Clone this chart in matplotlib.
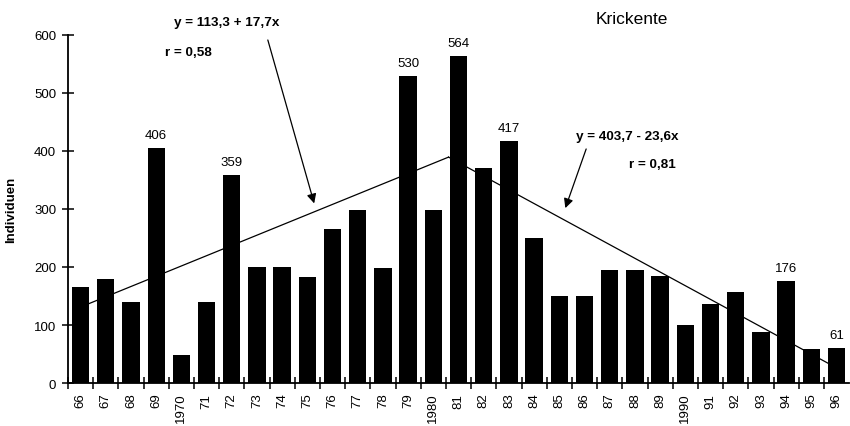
import matplotlib
matplotlib.use("Agg")
import matplotlib.pyplot as plt
import numpy as np

plt.rcParams['font.family'] = ['Liberation Sans', 'DejaVu Sans']

# Krickente counts per winter, 1966-1996
years = ['66', '67', '68', '69', '1970', '71', '72', '73', '74', '75', '76', '77', '78', '79', '1980',
         '81', '82', '83', '84', '85', '86', '87', '88', '89', '1990', '91', '92', '93', '94', '95', '96']
counts = [165, 180, 140, 406, 48, 140, 359, 200, 200, 183, 265, 298, 198, 530, 298,
          564, 370, 417, 250, 150, 150, 195, 195, 185, 100, 137, 157, 88, 176, 58, 61]
labelled = ['69', '72', '79', '81', '83', '94', '96']

# regression lines: rise 1966-1981, fall 1981-1996
rise_a, rise_b = 113.3, 17.7
fall_a, fall_b = 403.7, -23.6

fig = plt.figure(figsize=(8.5, 4.27), dpi=100)
ax = fig.add_axes([0.08, 0.1007, 0.919, 0.815])

pos = np.arange(len(years)) + 0.5
ax.bar(pos, counts, width=0.69, color='black', zorder=2)

for name, p, c in zip(years, pos, counts):
    if name in labelled:
        ax.annotate(str(c), (p, c), xytext=(0, 5), textcoords='offset points',
                    ha='center', va='bottom', fontsize=9.5)

# x of the regression = running year number (66 -> 1, 81 -> 1 for the second line)
meet = (fall_a + 14 * (-fall_b) - rise_a - rise_b) / (rise_b - fall_b)
x1 = np.array([0.3, meet])
ax.plot(x1 + 0.5, rise_a + rise_b * (x1 + 1), color='black', lw=0.9, zorder=3)
x2 = np.array([meet, 29.8])
ax.plot(x2 + 0.5, fall_a + fall_b * (x2 - 14), color='black', lw=0.9, zorder=3)

ax.text(6.3, 622, 'y = 113,3 + 17,7x', ha='center', va='center', fontsize=9.7,
        fontweight='bold', clip_on=False)
ax.text(3.85, 571, 'r = 0,58', ha='left', va='center', fontsize=9.7,
        fontweight='bold', clip_on=False)
ax.annotate('', xy=(9.8, 305), xytext=(7.9, 596),
            arrowprops=dict(arrowstyle='-|>', color='black', lw=0.9, mutation_scale=14),
            annotation_clip=False)

ax.text(22.2, 426, 'y = 403,7 - 23,6x', ha='center', va='center', fontsize=9.7,
        fontweight='bold')
ax.text(22.25, 378, 'r = 0,81', ha='left', va='center', fontsize=9.7, fontweight='bold')
ax.annotate('', xy=(19.7, 297), xytext=(20.6, 408),
            arrowprops=dict(arrowstyle='-|>', color='black', lw=0.9, mutation_scale=14))

fig.text(632 / 850, 1 - 19 / 427, 'Krickente', ha='center', va='center', fontsize=12.5)

ax.set_xlim(0, 31)
ax.set_ylim(0, 600)
ax.set_xticks(np.arange(0, 31))
ax.set_xticklabels([])
ax.set_xticks(pos, minor=True)
ax.set_xticklabels(years, minor=True, rotation=90, fontsize=9.5)
ax.tick_params(axis='x', which='major', direction='inout', length=9, width=1.1)
ax.tick_params(axis='x', which='minor', length=0, pad=7)
ax.set_yticks(np.arange(0, 601, 100))
ax.tick_params(axis='y', direction='inout', length=9, width=1.1, labelsize=9.5, pad=4)
ax.set_ylabel('Individuen', fontsize=9.5, fontweight='bold', labelpad=12)

for s in ['top', 'right']:
    ax.spines[s].set_visible(False)
for s in ['left', 'bottom']:
    ax.spines[s].set_linewidth(1.3)

fig.savefig('out.png', dpi=100)
